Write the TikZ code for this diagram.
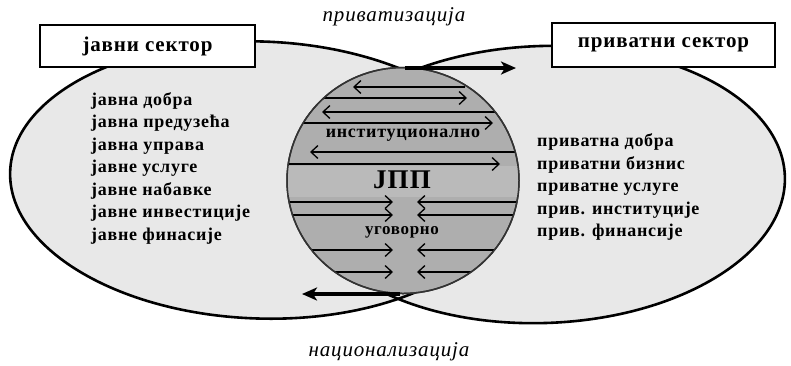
\documentclass[tikz,border=0pt]{standalone}
\usepackage{fontspec}
\setmainfont{Liberation Serif}[LetterSpace=4]
\usetikzlibrary{arrows.meta,shapes.geometric}
\definecolor{ellgray}{HTML}{E8E8E8}
\definecolor{circgray}{HTML}{AEAEAE}
\definecolor{bandgray}{HTML}{BABABA}
\begin{document}
\begin{tikzpicture}[x=1pt,y=-1pt,
  sectorshape/.style={ellipse, fill=ellgray, inner sep=0pt},
  outline/.style={ellipse, draw=black, line width=2.6pt, inner sep=0pt},
  ppp/.style={ellipse, fill=circgray, draw=black!80, line width=1.5pt, inner sep=0pt, minimum width=232pt, minimum height=226pt},
  sectorbox/.style={draw=black, line width=1.6pt, fill=white, font=\fontsize{21}{24}\selectfont\bfseries, inner sep=0pt},
  listtext/.style={font=\fontsize{18}{22.5}\selectfont\bfseries, align=left, inner sep=0pt},
  flowtext/.style={font=\fontsize{21}{24}\selectfont\itshape, inner sep=0pt},
  innerarrow/.style={line width=1.3pt, -{Straight Barb[length=7pt,width=13pt,line width=1.3pt]}},
  bigarrow/.style={line width=3.5pt, -{Stealth[length=15pt,width=13pt,inset=4pt]}},
]
\useasboundingbox (0,0) rectangle (791,365);
\fill[white] (0,0) rectangle (791,365);
% sector ellipses
\node[sectorshape, rotate=-2, minimum width=500pt, minimum height=277pt] (pubfill) at (260,180) {};
\node[sectorshape, rotate=2, minimum width=484pt, minimum height=277pt] (privfill) at (543,184.5) {};
\node[outline, rotate=-2, minimum width=500pt, minimum height=277pt] (pub) at (260,180) {};
\node[outline, rotate=2, minimum width=484pt, minimum height=277pt] (priv) at (543,184.5) {};
% PPP circle
\node[ppp] (jpp) at (403,180.5) {};
\begin{scope}
  \clip (403,180.5) ellipse [x radius=116pt, y radius=113pt];
  \fill[bandgray] (280,166) rectangle (530,197);
  \draw[innerarrow] (465,87) -- (353,87);
  \draw[innerarrow] (270,98) -- (467,98);
  \draw[innerarrow] (540,112) -- (322,112);
  \draw[innerarrow] (270,123) -- (493,123);
  \draw[innerarrow] (540,152) -- (310,152);
  \draw[innerarrow] (270,164) -- (500,164);
  \foreach \yy in {202,215,250,272}{
    \draw[innerarrow] (270,\yy) -- (393,\yy);
    \draw[innerarrow] (540,\yy) -- (417,\yy);
  }
\end{scope}
\draw[draw=black!80, line width=1.5pt] (403,180.5) ellipse [x radius=116pt, y radius=113pt];
% flows
\coordinate (topstart) at (405,68);
\coordinate (topend) at (516,68);
\coordinate (botstart) at (400,294);
\coordinate (botend) at (302,294);
\draw[bigarrow] (topstart) -- (topend);
\draw[bigarrow] (botstart) -- (botend);
% boxes
\node[sectorbox, minimum width=215pt, minimum height=42pt] (pubbox) at (147.5,46) {јавни сектор};
\node[sectorbox, minimum width=223pt, minimum height=44pt] (privbox) at (663.5,45) {приватни сектор};
% flow labels
\node[flowtext] (privatization) at (394,17) {приватизација};
\node[flowtext] (nationalization) at (389,352) {национализација};
% lists
\node[listtext, anchor=west] (publist) at (91,168) {јавна добра\\јавна предузећа\\јавна управа\\јавне услуге\\јавне набавке\\јавне инвестиције\\јавне финасије};
\node[listtext, anchor=west] (privlist) at (537,187) {приватна добра\\приватни бизнис\\приватне услуге\\прив. институције\\прив. финансије};
% circle texts
\node[font=\fontsize{18}{20}\selectfont\bfseries, inner sep=0pt] (inst) at (403,135) {институционално};
\node[font=\fontsize{27}{30}\selectfont\bfseries, inner sep=0pt] (jpplabel) at (402,180) {ЈПП};
\node[font=\fontsize{17}{20}\selectfont\bfseries, inner sep=0pt] (contract) at (402,232) {уговорно};
\end{tikzpicture}
\end{document}
